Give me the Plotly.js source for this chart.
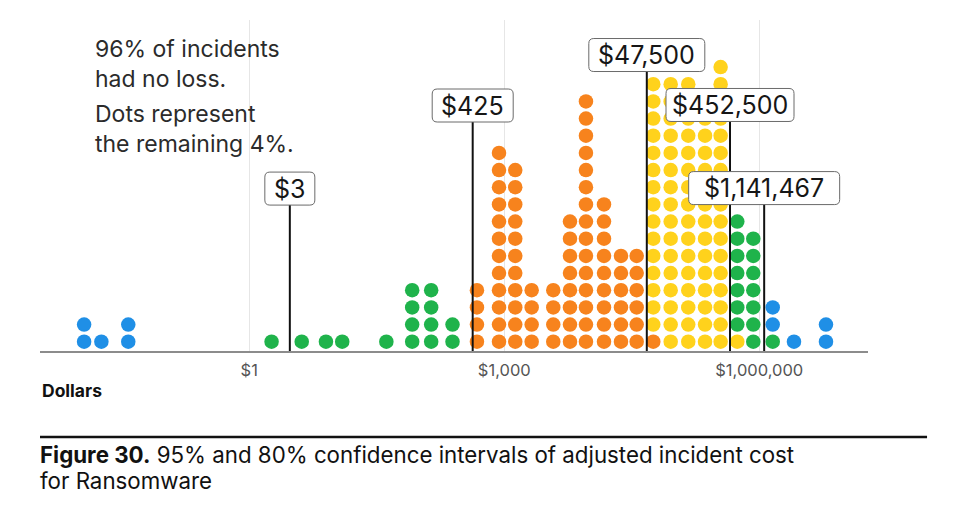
<!DOCTYPE html>
<html>
<head>
<meta charset="utf-8">
<script src="https://cdn.plot.ly/plotly-3.0.1.min.js"></script>
<style>
  html, body { margin: 0; padding: 0; background: #ffffff; }
  #chart { width: 967px; height: 507px; }
</style>
</head>
<body>
<div id="chart"></div>
<script>
// ---------- DATA ----------
// Dot columns: dollar value of each column of the quantile dot plot
const columnValues = [0.0114, 0.0182, 0.0377, 1.83, 4.14, 7.98, 12.4, 41.0, 82.5, 138, 246,
  477, 867, 1346, 2100, 3770, 5930, 9140, 14900, 23600, 36100,
  56600, 90700, 146000, 230000, 351000, 551000, 850000, 1440000, 2560000, 6090000];
// Dots per column, stacked bottom-to-top in this order
const lowTailDots   = [2, 1, 2, 0, 0, 0, 0, 0, 0, 0, 0, 0, 0, 0, 0, 0, 0, 0, 0, 0, 0, 0, 0, 0, 0, 0, 0, 0, 0, 0, 0];
const low95Dots     = [0, 0, 0, 1, 1, 1, 1, 1, 4, 4, 2, 0, 0, 0, 0, 0, 0, 0, 0, 0, 0, 0, 0, 0, 0, 0, 0, 0, 0, 0, 0];
const low80Dots     = [0, 0, 0, 0, 0, 0, 0, 0, 0, 0, 0, 4, 12, 11, 4, 4, 8, 15, 9, 6, 6, 1, 0, 0, 0, 0, 0, 0, 0, 0, 0];
const high80Dots    = [0, 0, 0, 0, 0, 0, 0, 0, 0, 0, 0, 0, 0, 0, 0, 0, 0, 0, 0, 0, 0, 15, 16, 16, 15, 17, 1, 0, 0, 0, 0];
const high95Dots    = [0, 0, 0, 0, 0, 0, 0, 0, 0, 0, 0, 0, 0, 0, 0, 0, 0, 0, 0, 0, 0, 0, 0, 0, 0, 0, 7, 7, 1, 0, 0];
const highTailDots  = [0, 0, 0, 0, 0, 0, 0, 0, 0, 0, 0, 0, 0, 0, 0, 0, 0, 0, 0, 0, 0, 0, 0, 0, 0, 0, 0, 0, 2, 1, 2];
// Interval markers (dollars)
const markerValues = [3, 425, 47500, 452500, 1141467];
// Axis ticks
const tickValues = [1, 1000, 1000000];
const tickLabels = ['$1', '$1,000', '$1,000,000'];

// ---------- STYLE ----------
const groups = [
  {counts: lowTailDots,  color: '#1f8fe6'},
  {counts: low95Dots,    color: '#1fb34b'},
  {counts: low80Dots,    color: '#f7831d'},
  {counts: high80Dots,   color: '#ffd21c'},
  {counts: high95Dots,   color: '#1fb34b'},
  {counts: highTailDots, color: '#1f8fe6'}
];
const labelRow   = [8.92, 13.76, 16.70, 13.79, 8.95];   // vertical placement of boxes (row units)
const labelWidth = [50, 81, 116, 128, 151];              // box widths in px
const LABEL_H = 33, RADIUS = 5;
const FONT = 'Inter, "Liberation Sans", Arial, sans-serif';
const Y_BOTTOM = -0.54, Y_TOP = 18.74;

// ---------- BUILD ----------
const traces = [];
const stackHeight = columnValues.map(() => 0);
groups.forEach(g => {
  const xs = [], ys = [];
  g.counts.forEach((n, i) => {
    for (let k = 0; k < n; k++) {
      xs.push(columnValues[i]);
      ys.push(stackHeight[i]);
      stackHeight[i] += 1;
    }
  });
  traces.push({
    type: 'scatter', mode: 'markers', x: xs, y: ys,
    marker: {size: 14.5, color: g.color, line: {width: 0}},
    hoverinfo: 'skip', showlegend: false
  });
});

// vertical interval lines
markerValues.forEach((v, i) => {
  traces.push({
    type: 'scatter', mode: 'lines', x: [v, v], y: [Y_BOTTOM, labelRow[i]],
    line: {color: '#111111', width: 2}, hoverinfo: 'skip', showlegend: false,
    cliponaxis: false
  });
});

function roundedBox(w, h, r) {
  const a = w / 2, b = h / 2;
  return `M ${-a + r},${-b} L ${a - r},${-b} Q ${a},${-b} ${a},${-b + r} ` +
         `L ${a},${b - r} Q ${a},${b} ${a - r},${b} L ${-a + r},${b} ` +
         `Q ${-a},${b} ${-a},${b - r} L ${-a},${-b + r} Q ${-a},${-b} ${-a + r},${-b} Z`;
}

const shapes = [{
  type: 'line', xref: 'paper', yref: 'paper', x0: 0, x1: 1.0713, y0: -0.2598, y1: -0.2598,
  line: {color: '#111111', width: 2.5}
}];
markerValues.forEach((v, i) => {
  shapes.push({
    type: 'path', xref: 'x', yref: 'y', xsizemode: 'pixel', ysizemode: 'pixel',
    xanchor: v, yanchor: labelRow[i],
    path: roundedBox(labelWidth[i], LABEL_H, RADIUS),
    fillcolor: '#ffffff', line: {color: '#6a6a6a', width: 1}, layer: 'above'
  });
});

const fmt = v => '$' + v.toLocaleString('en-US');
const annotations = markerValues.map((v, i) => ({
  x: Math.log10(v), y: labelRow[i], xref: 'x', yref: 'y',
  text: fmt(v), showarrow: false,
  font: {family: FONT, size: 25, color: '#161616'},
  xanchor: 'center', yanchor: 'middle'
}));

const noteBlocks = [
  ['96% of incidents<br>had no loss.', 0.866],
  ['Dots represent<br>the remaining 4%.', 0.671]
];
noteBlocks.forEach(([t, y]) => annotations.push({
  x: 0.064, y: y, xref: 'paper', yref: 'paper', xanchor: 'left', yanchor: 'middle',
  align: 'left', text: t, showarrow: false, font: {family: FONT, size: 23, color: '#2b2b2b'}
}));

annotations.push({
  x: 0.0, y: -0.118, xref: 'paper', yref: 'paper', xanchor: 'left', yanchor: 'middle',
  text: '<b>Dollars</b>', showarrow: false, font: {family: FONT, size: 17.5, color: '#111'}
});
annotations.push({
  x: -0.003, y: -0.314, xref: 'paper', yref: 'paper', xanchor: 'left', yanchor: 'middle',
  text: '<b>Figure 30.</b> 95% and 80% confidence intervals of adjusted incident cost',
  showarrow: false, font: {family: FONT, size: 22.3, color: '#111'}
});
annotations.push({
  x: -0.003, y: -0.390, xref: 'paper', yref: 'paper', xanchor: 'left', yanchor: 'middle',
  text: 'for Ransomware', showarrow: false, font: {family: FONT, size: 22.3, color: '#111'}
});

const layout = {
  width: 967, height: 507,
  margin: {l: 40, r: 99, t: 20, b: 156, pad: 0},
  paper_bgcolor: '#ffffff', plot_bgcolor: '#ffffff',
  showlegend: false,
  xaxis: {
    type: 'log', range: [-2.462, 7.279],
    tickvals: tickValues, ticktext: tickLabels,
    showgrid: true, gridcolor: '#e6e6e6', gridwidth: 1,
    showline: true, linecolor: '#8c8c8c', linewidth: 2,
    ticks: 'outside', ticklen: 3, tickcolor: 'rgba(0,0,0,0)',
    tickfont: {family: FONT, size: 16.5, color: '#555555'},
    zeroline: false, fixedrange: true
  },
  yaxis: {
    range: [Y_BOTTOM, Y_TOP], visible: false, showgrid: false, zeroline: false, fixedrange: true
  },
  shapes: shapes,
  annotations: annotations
};

Plotly.newPlot('chart', traces, layout, {staticPlot: true, displayModeBar: false});
</script>
</body>
</html>
